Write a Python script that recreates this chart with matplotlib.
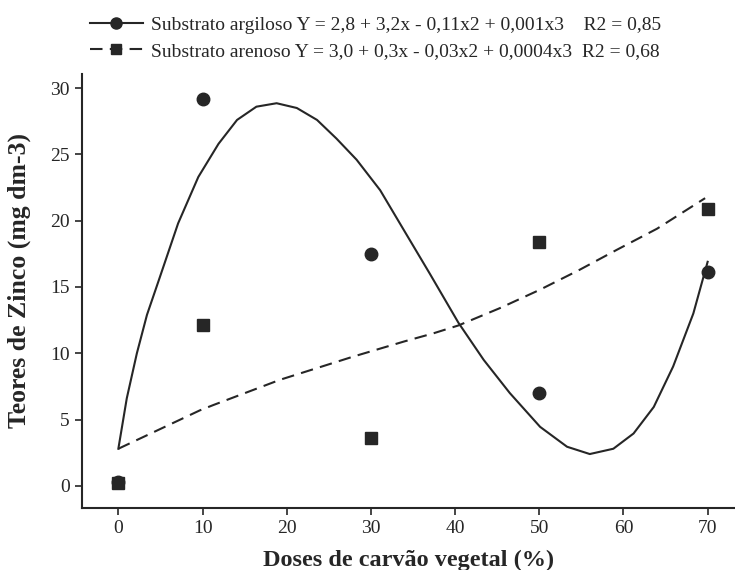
import matplotlib

matplotlib.use("Agg")

import matplotlib.pyplot as plt

plt.rcParams["font.family"] = ["Liberation Serif", "DejaVu Serif"]

# observed points
doses = [0, 10, 30, 50, 70]
argiloso_obs = [0.3, 29.2, 17.5, 7.0, 16.1]
arenoso_obs = [0.2, 12.1, 3.6, 18.4, 20.9]

# fitted curves
argiloso_fit_x = [0, 1.0, 2.2, 3.4, 4.8, 7.1, 9.5, 11.9, 14.1, 16.4, 18.8,
                  21.2, 23.6, 25.9, 28.3, 31.1, 34.0, 37.0, 40.4, 43.4, 46.5,
                  50.1, 53.3, 56.0, 58.8, 61.2, 63.6, 65.9, 68.3, 70.0]
argiloso_fit_y = [2.8, 6.6, 10.0, 12.9, 15.5, 19.8, 23.3, 25.8, 27.6, 28.6,
                  28.86, 28.5, 27.6, 26.2, 24.6, 22.3, 19.2, 16.0, 12.3, 9.5,
                  7.0, 4.45, 2.95, 2.4, 2.8, 3.95, 5.95, 9.0, 13.0, 16.9]
arenoso_fit_x = [0, 9.7, 11.3, 19.2, 27.9, 34.0, 37.4, 40.4, 45.3, 50.1, 54.8,
                 59.2, 64.0, 69.7]
arenoso_fit_y = [2.8, 5.7, 6.1, 8.0, 9.75, 10.9, 11.5, 12.1, 13.4, 14.8, 16.3,
                 17.8, 19.4, 21.7]

x_ticks = [0, 10, 20, 30, 40, 50, 60, 70]
y_ticks = [0, 5, 10, 15, 20, 25, 30]

label_argiloso = "Substrato argiloso Y = 2,8 + 3,2x - 0,11x2 + 0,001x3    R2 = 0,85"
label_arenoso = "Substrato arenoso Y = 3,0 + 0,3x - 0,03x2 + 0,0004x3  R2 = 0,68"

ink = "#262626"

fig = plt.figure(figsize=(7.35, 5.7), dpi=100)
ax = fig.add_axes([0.112, 0.109, 0.888, 0.762])

ax.plot(argiloso_fit_x, argiloso_fit_y, color=ink, linewidth=1.5)
ax.plot(arenoso_fit_x, arenoso_fit_y, color=ink, linewidth=1.5,
        dashes=(6, 3.5))
ax.plot(doses, arenoso_obs, linestyle="none", marker="s", markersize=8,
        color=ink)
ax.plot(doses, argiloso_obs, linestyle="none", marker="o", markersize=9,
        color=ink)

# legend handles
h1, = ax.plot([], [], color=ink, linewidth=1.5, marker="o", markersize=8,
              label=label_argiloso)
h2, = ax.plot([], [], color=ink, linewidth=1.5, marker="s", markersize=7,
              dashes=(6, 3.5), label=label_arenoso)
fig.legend(handles=[h1, h2], loc="upper left",
           bbox_to_anchor=(90 / 735, 1 - 16 / 570), borderpad=0,
           borderaxespad=0, frameon=False, fontsize=14, handlelength=2.7,
           handletextpad=0.45, labelspacing=0.45, labelcolor=ink)

ax.set_xlim(-4.28, 73.25)
ax.set_ylim(-1.66, 31.1)
ax.set_xticks(x_ticks)
ax.set_yticks(y_ticks)
ax.spines["top"].set_visible(False)
ax.spines["right"].set_visible(False)
for side in ("left", "bottom"):
    ax.spines[side].set_color(ink)
    ax.spines[side].set_linewidth(1.5)
ax.tick_params(colors=ink, labelsize=14, length=5, width=1.2, pad=4)

ax.set_xlabel("Doses de carvão vegetal (%)", fontsize=17.5, fontweight="bold",
              color=ink, labelpad=9)
ax.set_ylabel("Teores de Zinco (mg dm-3)", fontsize=18.5, fontweight="bold",
              color=ink)
ax.yaxis.set_label_coords(-0.079, 0.524)

fig.savefig("out.png", dpi=100)
plt.close(fig)
